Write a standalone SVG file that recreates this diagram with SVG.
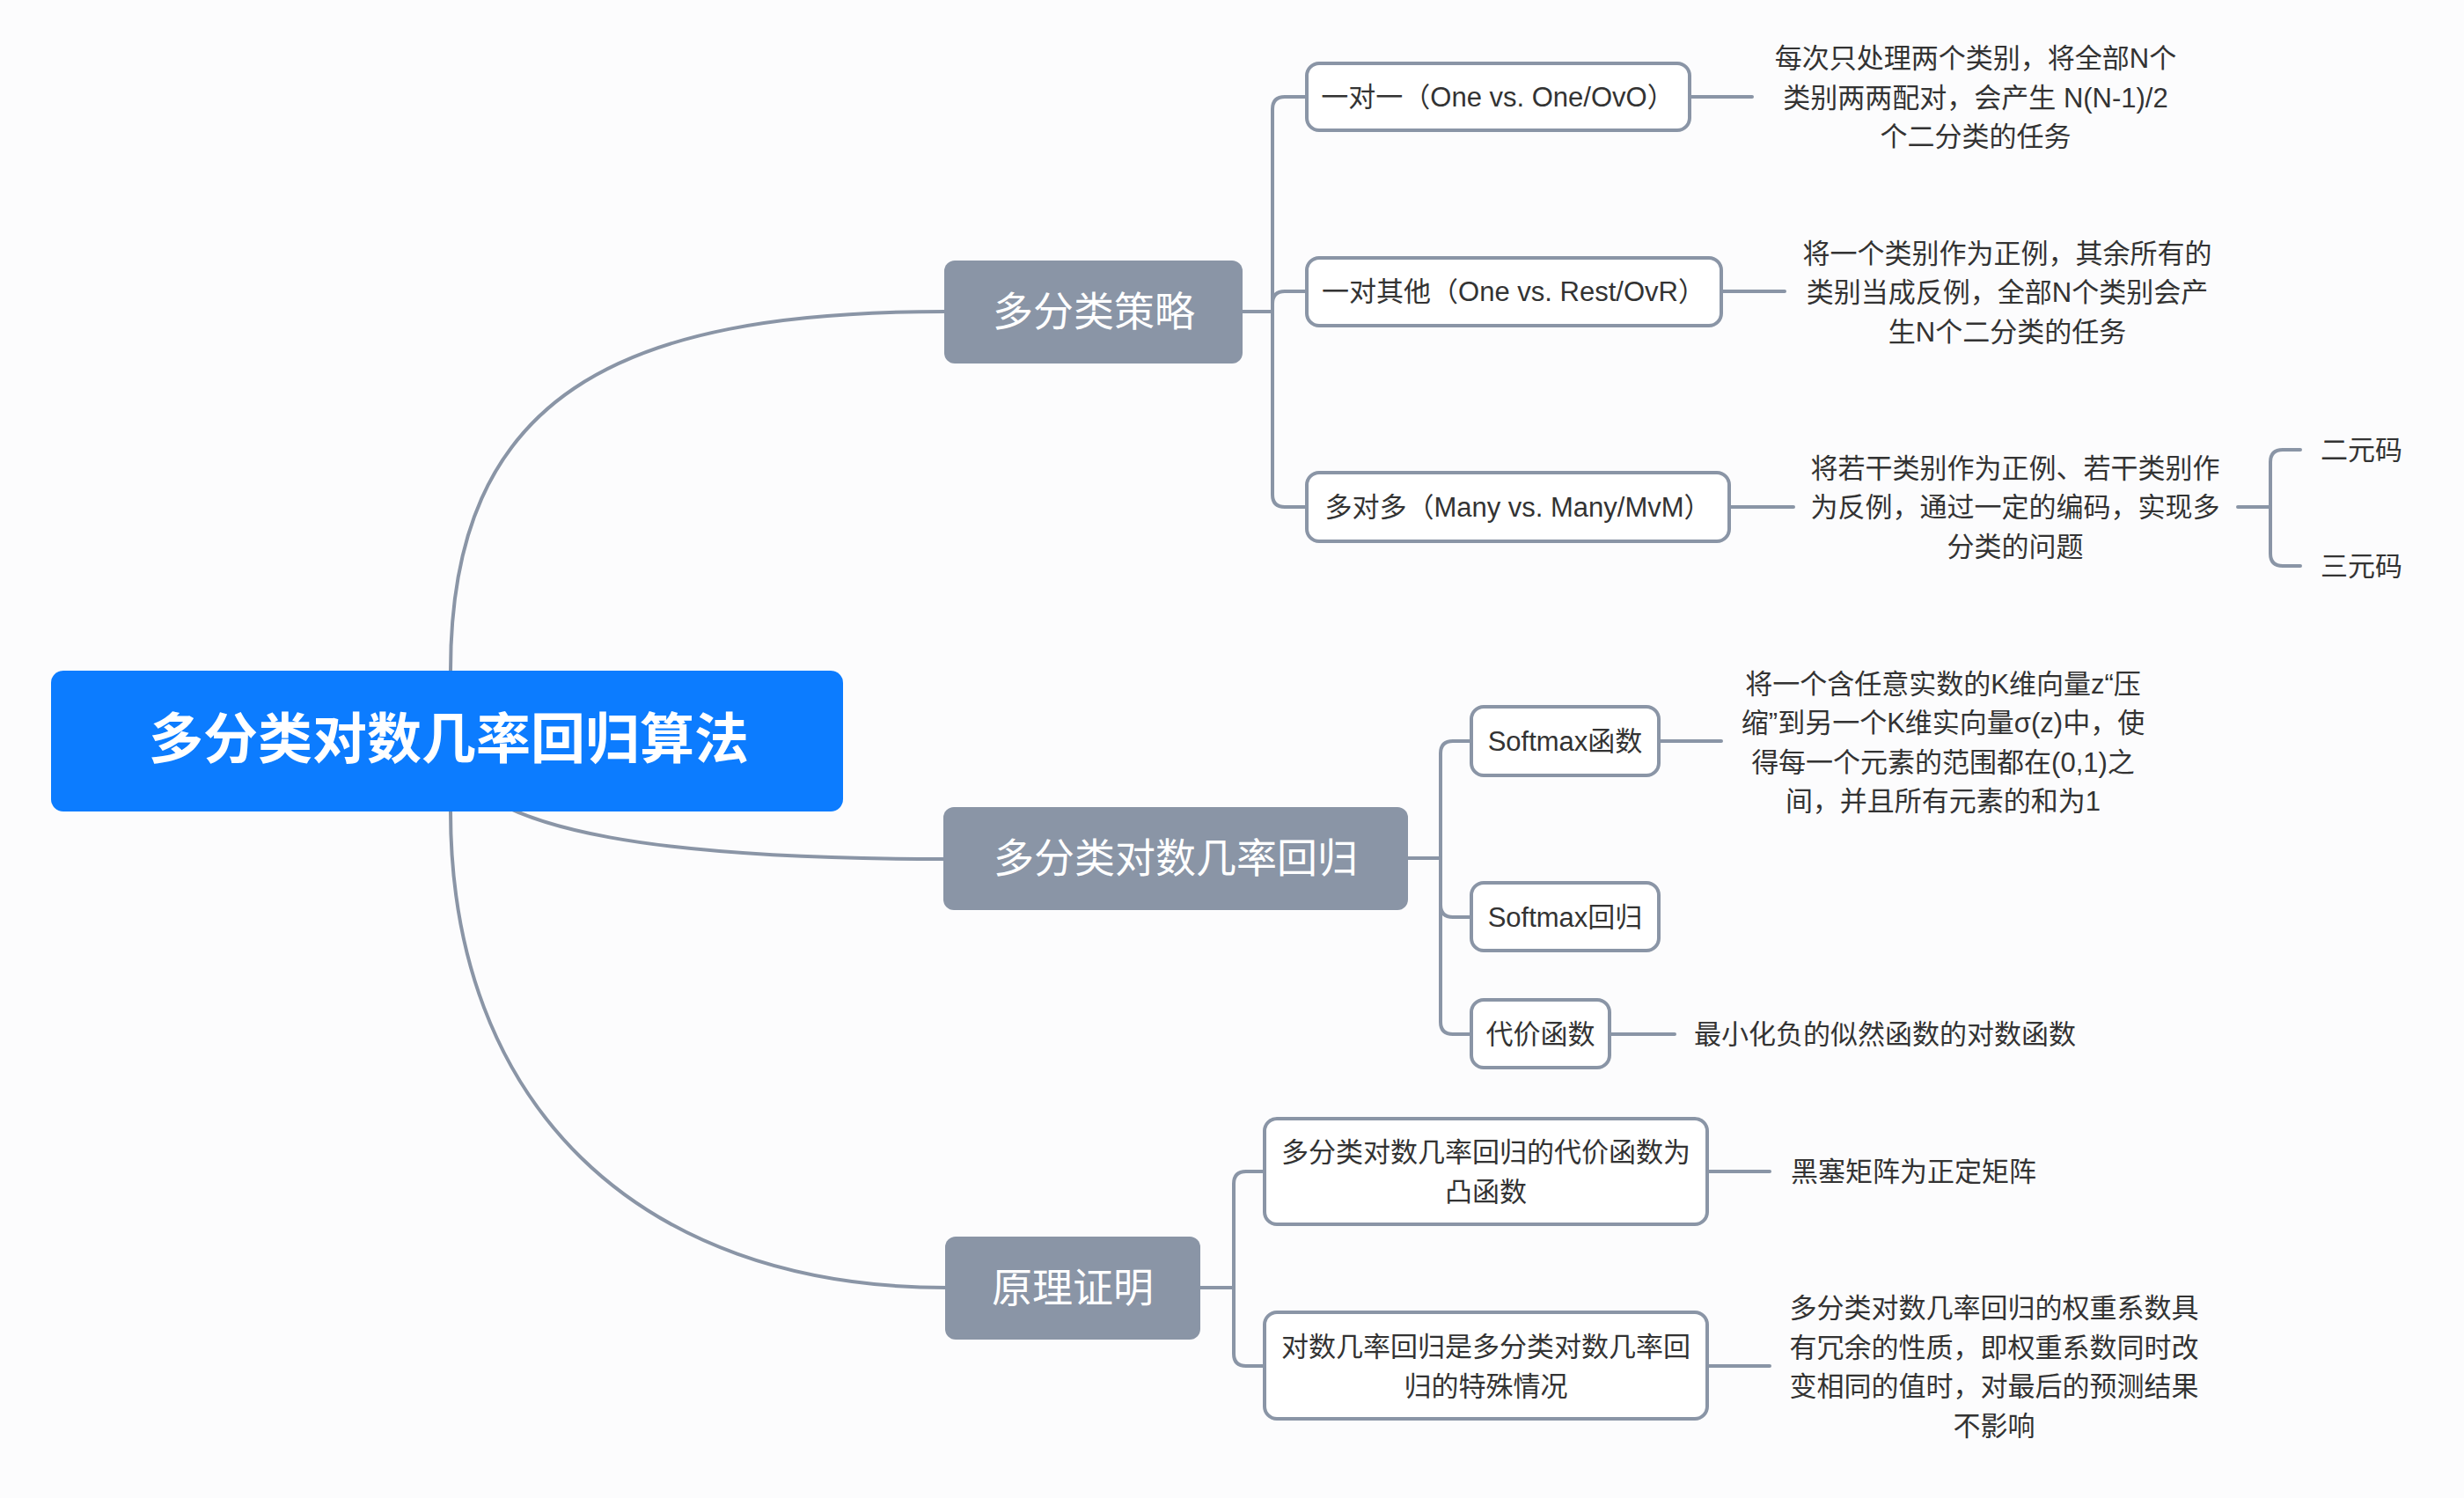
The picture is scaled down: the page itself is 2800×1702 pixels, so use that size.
<svg xmlns="http://www.w3.org/2000/svg" width="2800" height="1702" viewBox="0 0 2800 1702">
<style>
.bg{fill:#fcfcfd}
.ln{fill:none;stroke:#8a95a6;stroke-width:4;stroke-linecap:round}
.main{fill:#8a95a6}
.mt{fill:#ffffff;font-family:"Liberation Sans","Noto Sans CJK SC",sans-serif;font-size:46px;text-anchor:middle}
.box{fill:#ffffff;stroke:#8a95a6;stroke-width:4}
.t{fill:#333333;font-family:"Liberation Sans","Noto Sans CJK SC",sans-serif;font-size:31px}
.c{text-anchor:middle}
</style>
<rect class="bg" x="0" y="0" width="2800" height="1702"/>
<g id="connectors">
<path class="ln" d="M512,762 C512,450 700,354 1074,354"/>
<path class="ln" d="M508,842 C520,955 800,976 1074,976"/>
<path class="ln" d="M512,922 C512,1250 720,1463 1076,1463"/>
<path class="ln" d="M1412,354 H1446 V124 Q1446,110 1460,110 H1484"/>
<path class="ln" d="M1446,354 V345 Q1446,331 1460,331 H1484"/>
<path class="ln" d="M1446,354 V562 Q1446,576 1460,576 H1484"/>
<path class="ln" d="M1599,975 H1637 V856 Q1637,842 1651,842 H1671"/>
<path class="ln" d="M1637,975 V1028 Q1637,1042 1651,1042 H1671"/>
<path class="ln" d="M1637,975 V1161 Q1637,1175 1651,1175 H1671"/>
<path class="ln" d="M1364,1463 H1402 V1345 Q1402,1331 1416,1331 H1436"/>
<path class="ln" d="M1402,1463 V1538 Q1402,1552 1416,1552 H1436"/>
<path class="ln" d="M2543,576 H2580 V525 Q2580,511 2594,511 H2614"/>
<path class="ln" d="M2580,576 V629 Q2580,643 2594,643 H2614"/>
<path class="ln" d="M1922,110 H1991"/>
<path class="ln" d="M1958,331 H2028"/>
<path class="ln" d="M1967,576 H2038"/>
<path class="ln" d="M1887,842 H1956"/>
<path class="ln" d="M1831,1175 H1903"/>
<path class="ln" d="M1942,1331 H2011"/>
<path class="ln" d="M1942,1552 H2011"/>
</g>
<g id="root">
<rect x="58" y="762" width="900" height="160" rx="14" fill="#0c7cff"/>
<text x="510" y="862" fill="#ffffff" font-family="Liberation Sans,'Noto Sans CJK SC',sans-serif" font-size="62" font-weight="bold" text-anchor="middle">多分类对数几率回归算法</text>
</g>
<g id="n-strategy">
<rect class="main" x="1073" y="296" width="339" height="117" rx="12"/>
<text class="mt" x="1243" y="370">多分类策略</text>
</g>
<g id="n-regression">
<rect class="main" x="1072" y="917" width="528" height="117" rx="12"/>
<text class="mt" x="1336" y="991">多分类对数几率回归</text>
</g>
<g id="n-proof">
<rect class="main" x="1074" y="1405" width="290" height="117" rx="12"/>
<text class="mt" x="1219" y="1479">原理证明</text>
</g>
<g id="n-ovo">
<rect class="box" x="1485" y="72" width="435" height="76" rx="14"/>
<text class="t c" x="1702" y="121">一对一（One vs. One/OvO）</text>
</g>
<g id="n-ovo-desc">
<text class="t c"><tspan x="2245" y="77">每次只处理两个类别，将全部N个</tspan><tspan x="2245" y="121.5">类别两两配对，会产生 N(N-1)/2</tspan><tspan x="2245" y="166">个二分类的任务</tspan></text>
</g>
<g id="n-ovr">
<rect class="box" x="1485" y="293" width="471" height="77" rx="14"/>
<text class="t c" x="1720" y="342">一对其他（One vs. Rest/OvR）</text>
</g>
<g id="n-ovr-desc">
<text class="t c"><tspan x="2281" y="298.5">将一个类别作为正例，其余所有的</tspan><tspan x="2281" y="343">类别当成反例，全部N个类别会产</tspan><tspan x="2281" y="387.5">生N个二分类的任务</tspan></text>
</g>
<g id="n-mvm">
<rect class="box" x="1485" y="537" width="480" height="78" rx="14"/>
<text class="t c" x="1725" y="587">多对多（Many vs. Many/MvM）</text>
</g>
<g id="n-mvm-desc">
<text class="t c"><tspan x="2290" y="542.5">将若干类别作为正例、若干类别作</tspan><tspan x="2290" y="587">为反例，通过一定的编码，实现多</tspan><tspan x="2290" y="631.5">分类的问题</tspan></text>
</g>
<g id="n-binary">
<text class="t" x="2637" y="522">二元码</text>
</g>
<g id="n-ternary">
<text class="t" x="2637" y="654">三元码</text>
</g>
<g id="n-softmax-fn">
<rect class="box" x="1672" y="803" width="213" height="78" rx="14"/>
<text class="t c" x="1778.5" y="853">Softmax函数</text>
</g>
<g id="n-softmax-fn-desc">
<text class="t c"><tspan x="2208" y="787.5">将一个含任意实数的K维向量z“压</tspan><tspan x="2208" y="832">缩”到另一个K维实向量σ(z)中，使</tspan><tspan x="2208" y="876.5">得每一个元素的范围都在(0,1)之</tspan><tspan x="2208" y="921">间，并且所有元素的和为1</tspan></text>
</g>
<g id="n-softmax-reg">
<rect class="box" x="1672" y="1003" width="213" height="77" rx="14"/>
<text class="t c" x="1778.5" y="1053">Softmax回归</text>
</g>
<g id="n-cost">
<rect class="box" x="1672" y="1136" width="157" height="77" rx="14"/>
<text class="t c" x="1750.5" y="1186">代价函数</text>
</g>
<g id="n-cost-desc">
<text class="t" x="1925" y="1186">最小化负的似然函数的对数函数</text>
</g>
<g id="n-convex">
<rect class="box" x="1437" y="1271" width="503" height="120" rx="14"/>
<text class="t c"><tspan x="1688.5" y="1320">多分类对数几率回归的代价函数为</tspan><tspan x="1688.5" y="1364.5">凸函数</tspan></text>
</g>
<g id="n-convex-desc">
<text class="t" x="2035" y="1342">黑塞矩阵为正定矩阵</text>
</g>
<g id="n-special">
<rect class="box" x="1437" y="1491" width="503" height="121" rx="14"/>
<text class="t c"><tspan x="1688.5" y="1541">对数几率回归是多分类对数几率回</tspan><tspan x="1688.5" y="1585.5">归的特殊情况</tspan></text>
</g>
<g id="n-special-desc">
<text class="t c"><tspan x="2266" y="1497">多分类对数几率回归的权重系数具</tspan><tspan x="2266" y="1541.5">有冗余的性质，即权重系数同时改</tspan><tspan x="2266" y="1586">变相同的值时，对最后的预测结果</tspan><tspan x="2266" y="1630.5">不影响</tspan></text>
</g>
</svg>
